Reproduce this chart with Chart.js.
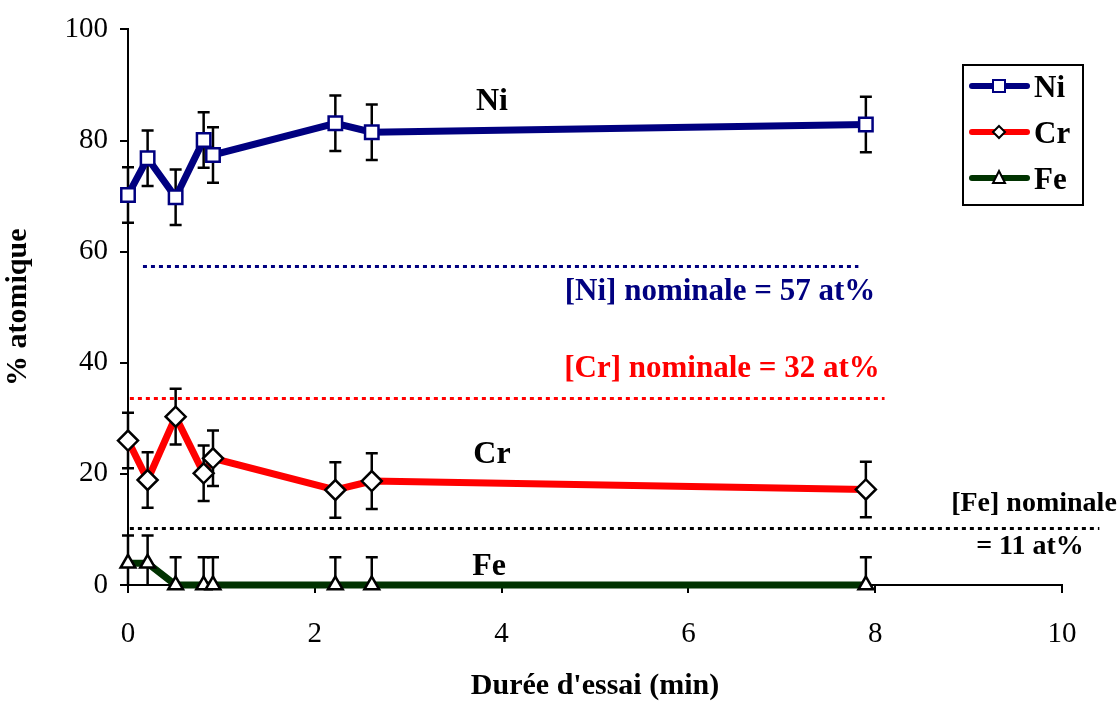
<!DOCTYPE html>
<html><head><meta charset="utf-8">
<script src="https://cdn.jsdelivr.net/npm/chart.js@4.4.1/dist/chart.umd.min.js"></script>
<style>html,body{margin:0;padding:0;background:#fff}#wrap{width:1119px;height:704px;position:relative}</style>
</head><body><div id="wrap"><canvas id="c" width="1119" height="704"></canvas></div>
<script>
const timesMin = [0, 0.21, 0.51, 0.81, 0.91, 2.22, 2.61, 7.9];
const niValues = [70.2, 76.8, 69.8, 80.1, 77.4, 83.1, 81.5, 82.9];
const crValues = [26.0, 18.9, 30.3, 20.1, 22.8, 17.1, 18.7, 17.2];
const feValues = [3.9, 3.9, 0, 0, 0, 0, 0, 0];
const errorValue = [5, 5, 5, 5, 5, 5, 5, 5];
const xTicks = [0, 2, 4, 6, 8, 10];
const yTicks = [0, 20, 40, 60, 80, 100];
const nominalLevels = [57.4, 33.7, 10.2];
const nominalStart = [0.16, 0.02, 0.02];
const nominalEnd = [7.82, 8.1, 10.4];
const nominalTexts = ['[Ni] nominale = 57 at%', '[Cr] nominale = 32 at%'];
const seriesNames = ['Ni', 'Cr', 'Fe'];

const NAVY = '#000080', RED = '#ff0000', GREEN = '#013301';
const SERIF = '"Liberation Serif", "Times New Roman", serif';

function pts(vals){ return timesMin.map((t,i)=>({x:t,y:vals[i]})); }

const overlay = {
  id:'overlay',
  beforeDatasetsDraw(chart){
    const {ctx, scales:{x,y}, chartArea:a} = chart;
    ctx.save();
    const cols = [NAVY, RED, '#000'];
    nominalLevels.forEach((lv,i)=>{
      ctx.strokeStyle = cols[i]; ctx.lineWidth = 3; ctx.setLineDash([4,4]);
      ctx.beginPath();
      const py = Math.round(y.getPixelForValue(lv))+0.5;
      ctx.moveTo(x.getPixelForValue(nominalStart[i]), py);
      ctx.lineTo(x.getPixelForValue(nominalEnd[i]), py);
      ctx.stroke();
    });
    ctx.setLineDash([]);
    ctx.beginPath();
    ctx.rect(a.left-20, a.top-10, a.right-a.left+40, a.bottom-a.top+10);
    ctx.clip();
    ctx.strokeStyle = '#000'; ctx.lineWidth = 2.5;
    [niValues, crValues, feValues].forEach(vals=>{
      vals.forEach((v,i)=>{
        const px = x.getPixelForValue(timesMin[i]);
        const yt = y.getPixelForValue(v+errorValue[i]);
        let yb = y.getPixelForValue(v-errorValue[i]);
        const lowClip = v-errorValue[i] < 0 && v === 0;
        if (lowClip) yb = y.getPixelForValue(0);
        ctx.beginPath();
        ctx.moveTo(px, yt); ctx.lineTo(px, yb);
        ctx.moveTo(px-6, yt); ctx.lineTo(px+6, yt);
        if (!lowClip){ ctx.moveTo(px-6, yb); ctx.lineTo(px+6, yb); }
        ctx.stroke();
      });
    });
    ctx.restore();
  },
  afterDatasetsDraw(chart){
    const {ctx} = chart;
    ctx.save();
    ctx.textAlign = 'center'; ctx.textBaseline = 'middle';
    ctx.font = 'bold 32px ' + SERIF;
    ctx.fillStyle = '#000';
    ctx.fillText('Ni', 492, 102);
    ctx.fillText('Cr', 492, 455);
    ctx.fillText('Fe', 489, 567);
    ctx.font = 'bold 31px ' + SERIF;
    ctx.fillStyle = NAVY; ctx.fillText(nominalTexts[0], 720, 292);
    ctx.fillStyle = RED; ctx.fillText(nominalTexts[1], 722, 369);
    ctx.fillStyle = '#000';
    ctx.font = 'bold 28px ' + SERIF;
    ctx.fillText('[Fe] nominale', 1034, 504);
    ctx.fillText('= 11 at%', 1030, 547);
    // legend
    ctx.strokeStyle = '#000'; ctx.lineWidth = 2;
    ctx.strokeRect(963, 65, 120, 140);
    const cols = [NAVY, RED, GREEN];
    const ys = [86, 132, 178];
    ctx.textAlign = 'left';
    ctx.font = 'bold 31px ' + SERIF;
    ys.forEach((ly,i)=>{
      ctx.strokeStyle = cols[i]; ctx.lineWidth = 6; ctx.lineCap = 'round';
      ctx.beginPath(); ctx.moveTo(972, ly); ctx.lineTo(1027, ly); ctx.stroke();
      ctx.lineCap = 'butt';
      ctx.fillStyle = '#fff'; ctx.lineWidth = 2;
      if (i===0){ ctx.strokeStyle = NAVY; ctx.fillRect(993, ly-6, 12, 12); ctx.strokeRect(993, ly-6, 12, 12); }
      if (i===1){ ctx.strokeStyle = '#000'; ctx.beginPath(); ctx.moveTo(999, ly-6); ctx.lineTo(1005, ly); ctx.lineTo(999, ly+6); ctx.lineTo(993, ly); ctx.closePath(); ctx.fill(); ctx.stroke(); }
      if (i===2){ ctx.strokeStyle = '#000'; ctx.beginPath(); ctx.moveTo(999, ly-7); ctx.lineTo(1005, ly+5); ctx.lineTo(993, ly+5); ctx.closePath(); ctx.fill(); ctx.stroke(); }
      ctx.fillStyle = '#000';
      ctx.fillText(seriesNames[i], 1034, ly+3);
    });
    ctx.restore();
  }
};

const common = {showLine:true, borderWidth:7, pointBackgroundColor:'#fff', pointBorderWidth:2.5, tension:0, clip:false};

new Chart(document.getElementById('c'), {
  type:'scatter',
  data:{ datasets:[
    {...common, label:seriesNames[0], data:pts(niValues), borderColor:NAVY, pointBorderColor:NAVY, pointStyle:'rect', pointRadius:9.5},
    {...common, label:seriesNames[1], data:pts(crValues), borderColor:RED, pointBorderColor:'#000', pointStyle:'rectRot', pointRadius:10},
    {...common, label:seriesNames[2], data:pts(feValues), borderColor:GREEN, pointBorderColor:'#000', pointStyle:'triangle', pointRadius:8.5},
  ]},
  options:{
    responsive:false, animation:false, events:[],
    layout:{padding:{left:0, right:57, top:28, bottom:0}},
    plugins:{legend:{display:false}, tooltip:{enabled:false}},
    scales:{
      x:{type:'linear', min:0, max:10,
        afterBuildTicks(s){ s.ticks = xTicks.map(v=>({value:v})); },
        afterFit(s){ s.height = 704-585; },
        border:{display:true, color:'#000', width:2},
        grid:{display:true, drawOnChartArea:false, drawTicks:true, tickLength:8, color:'#000', lineWidth:2},
        ticks:{color:'#000', font:{family:SERIF, size:29}, padding:24, maxRotation:0},
        title:{display:true, text:"Durée d'essai (min)", color:'#000', font:{family:SERIF, size:30, weight:'bold'}, padding:{top:15,bottom:0}}
      },
      y:{type:'linear', min:0, max:100,
        afterBuildTicks(s){ s.ticks = yTicks.map(v=>({value:v})); },
        afterFit(s){ s.width = 128; },
        border:{display:true, color:'#000', width:2},
        grid:{display:true, drawOnChartArea:false, drawTicks:true, tickLength:8, color:'#000', lineWidth:2},
        ticks:{color:'#000', font:{family:SERIF, size:29}, padding:12},
        title:{display:true, text:'% atomique', color:'#000', font:{family:SERIF, size:30, weight:'bold'}, padding:{top:0,bottom:12}}
      }
    }
  },
  plugins:[overlay]
});
</script></body></html>
